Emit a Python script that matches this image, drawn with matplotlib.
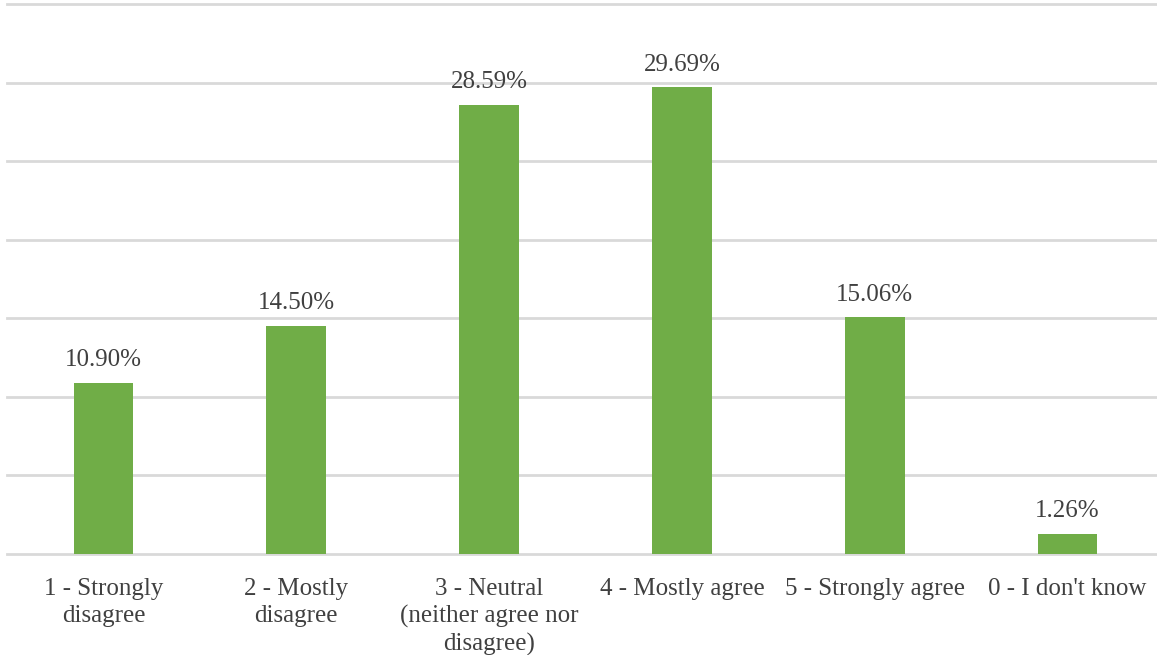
import matplotlib.pyplot as plt

categories = ['1 - Strongly\ndisagree', '2 - Mostly\ndisagree',
              '3 - Neutral\n(neither agree nor\ndisagree)', '4 - Mostly agree',
              '5 - Strongly agree', "0 - I don't know"]
shares = [10.90, 14.50, 28.59, 29.69, 15.06, 1.26]

plt.rcParams['font.family'] = ['Liberation Serif', 'DejaVu Serif']
text_color = '#404040'

fig = plt.figure(figsize=(11.57, 6.55), dpi=100)
ax = fig.add_axes([7 / 1157, 101 / 655, 1157 / 1157, 550 / 655])

x = range(len(categories))
bars = ax.bar(x, shares, width=0.31, color='#70AD47', zorder=3)
for b, v in zip(bars, shares):
    ax.text(b.get_x() + b.get_width() / 2, v + 0.75, f'{v:.2f}%',
            ha='center', va='bottom', fontsize=18, color=text_color)

ax.set_xlim(-0.5, len(categories) - 0.5)
ax.set_ylim(0, 35)
ax.set_yticks(range(0, 36, 5))
ax.yaxis.grid(True, color='#D9D9D9', linewidth=2, zorder=0)
for gl in ax.get_ygridlines():
    gl.set_clip_on(False)
ax.tick_params(axis='y', left=False, labelleft=False)
ax.tick_params(axis='x', length=0, pad=17)
ax.set_xticks(list(x))
ax.set_xticklabels(categories, fontsize=18, color=text_color, linespacing=1.3)
for s in ax.spines.values():
    s.set_visible(False)

fig.savefig('out.png', dpi=100)
